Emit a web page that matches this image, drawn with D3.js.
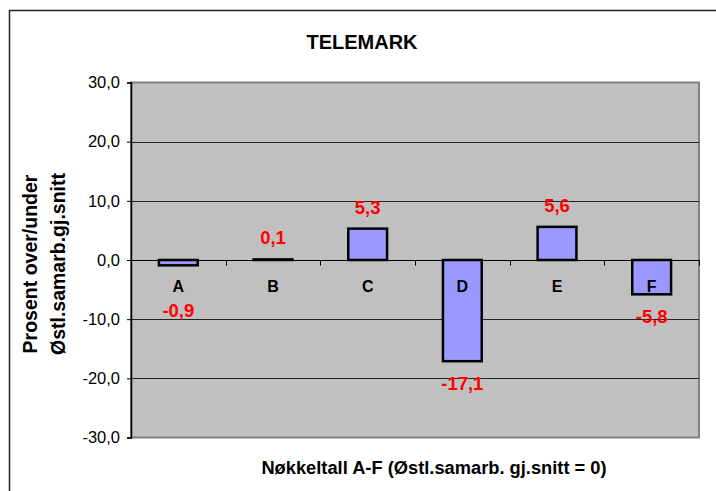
<!DOCTYPE html>
<html>
<head>
<meta charset="utf-8">
<script src="https://cdn.jsdelivr.net/npm/d3@7"></script>
<style>
  body { margin: 0; background: #fff; }
  text { font-family: "Liberation Sans", Arial, sans-serif; }
</style>
</head>
<body id="viz">
<script>
// Data
categories = ["A", "B", "C", "D", "E", "F"]
values = [-0.9, 0.1, 5.3, -17.1, 5.6, -5.8]
y_ticks = [30, 20, 10, 0, -10, -20, -30]
title_text = "TELEMARK"
y_title_lines = ["Prosent over/under", "Østl.samarb.gj.snitt"]
x_title_text = "Nøkkeltall A-F (Østl.samarb. gj.snitt = 0)"

// Layout
svg_width = 716
svg_height = 491
plot = {left: 131, right: 699, top: 82.5, bottom: 437.5}

svg = d3.select("body#viz")
    .append("svg")
    .attr("width", svg_width)
    .attr("height", svg_height)

// outer chart border (runs off right/bottom edge)
svg.append("path")
    .attr("d", "M9.5,491 V10.5 H716")
    .style("fill", "none")
    .style("stroke", "#222")
    .style("stroke-width", 1.5)

var x = d3.scaleBand()
    .domain(categories)
    .range([plot.left, plot.right])
    .paddingInner(0.59)
    .paddingOuter(0.295)

var y = d3.scaleLinear()
    .domain([-30, 30])
    .range([plot.bottom, plot.top])

var fmt = function(v) { return d3.format(".1f")(v).replace(".", ",").replace("−", "-") }

// plot area
svg.append("rect")
    .attr("x", plot.left)
    .attr("y", plot.top)
    .attr("width", plot.right - plot.left)
    .attr("height", plot.bottom - plot.top)
    .attr("fill", "#c0c0c0")
    .style("stroke", "#808080")
    .style("stroke-width", 2)

// gridlines
svg.append("g")
  .selectAll("line")
  .data(y_ticks.filter(function(d) { return d != 30 && d != -30 && d != 0 }))
  .enter().append("line")
    .attr("x1", plot.left)
    .attr("x2", plot.right)
    .attr("y1", function(d) { return Math.round(y(d)) + 0.5 })
    .attr("y2", function(d) { return Math.round(y(d)) + 0.5 })
    .style("stroke", "#222")
    .style("stroke-width", 1)

// y axis
var yAxis = d3.axisLeft(y)
    .tickValues(y_ticks)
    .tickSize(4)
    .tickPadding(7)
    .tickFormat(fmt)

var yg = svg.append("g")
    .attr("transform", "translate(" + plot.left + ",0)")
    .call(yAxis)
yg.select(".domain").style("stroke", "#000").style("stroke-width", 1.5)
yg.selectAll(".tick line").style("stroke", "#000")
yg.selectAll(".tick text")
    .style("font-size", "16.5px")
    .style("font-family", "'Liberation Sans', Arial, sans-serif")
    .style("fill", "#000")

// x axis at zero
var y0 = Math.round(y(0)) + 0.5
var bounds = d3.range(categories.length + 1).map(function(i) { return plot.left + i * x.step() })

svg.append("line")
    .attr("x1", plot.left)
    .attr("x2", plot.right)
    .attr("y1", y0)
    .attr("y2", y0)
    .style("stroke", "#000")
    .style("stroke-width", 1)

svg.append("g")
  .selectAll("line")
  .data(bounds)
  .enter().append("line")
    .attr("x1", function(d) { return Math.round(d) + 0.5 })
    .attr("x2", function(d) { return Math.round(d) + 0.5 })
    .attr("y1", y0)
    .attr("y2", y0 + 5)
    .style("stroke", "#000")

// bars
svg.append("g")
  .selectAll("rect")
  .data(values)
  .enter().append("rect")
    .attr("x", function(d, i) { return x(categories[i]) })
    .attr("y", function(d) { return y(Math.max(0, d)) })
    .attr("width", x.bandwidth())
    .attr("height", function(d) { return Math.abs(y(d) - y(0)) })
    .attr("fill", "#9999ff")
    .style("stroke", "#000")
    .style("stroke-width", 2.5)

// category labels
svg.append("g")
  .selectAll("text")
  .data(categories)
  .enter().append("text")
    .attr("x", function(d) { return x(d) + x.bandwidth() / 2 })
    .attr("y", y(0) + 32)
    .attr("text-anchor", "middle")
    .style("font-size", "16px")
    .style("font-weight", "bold")
    .style("fill", "#000")
    .text(function(d) { return d })

// value labels
svg.append("g")
  .selectAll("text")
  .data(values)
  .enter().append("text")
    .attr("x", function(d, i) { return x(categories[i]) + x.bandwidth() / 2 })
    .attr("y", function(d) {
      if (d >= 0) return y(d) - 15
      return Math.max(y(d) + 29, y(0) + 57)
    })
    .attr("text-anchor", "middle")
    .style("font-size", "18.5px")
    .style("font-weight", "bold")
    .style("fill", "#ff0000")
    .text(function(d) { return fmt(d) })

// title
svg.append("text")
    .attr("x", 362)
    .attr("y", 49)
    .attr("text-anchor", "middle")
    .style("font-size", "20px")
    .style("font-weight", "bold")
    .text(title_text)

// y axis title
svg.append("g")
  .selectAll("text")
  .data(y_title_lines)
  .enter().append("text")
    .attr("transform", function(d, i) { return "translate(" + (37 + i * 28) + ",264) rotate(-90)" })
    .attr("text-anchor", "middle")
    .style("font-size", "19.5px")
    .style("font-weight", "bold")
    .text(function(d) { return d })

// x axis title
svg.append("text")
    .attr("x", 434)
    .attr("y", 474)
    .attr("text-anchor", "middle")
    .style("font-size", "18.3px")
    .style("font-weight", "bold")
    .text(x_title_text)
</script>
</body>
</html>
